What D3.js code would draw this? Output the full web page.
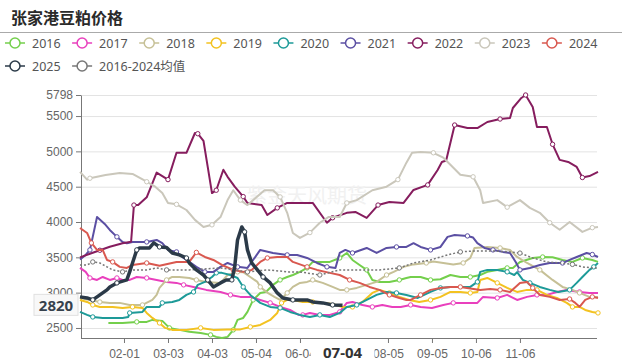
<!DOCTYPE html>
<html>
<head>
<meta charset="utf-8">
<script src="https://cdn.jsdelivr.net/npm/d3@7"></script>
<style>
  body { margin: 0; background: #fff; }
  svg { display: block; font-family: "Noto Sans", "Noto Sans CJK SC", sans-serif; }
</style>
</head>
<body>
<svg id="chart" width="633" height="363"></svg>
<script>
// [day index into the MM-DD category list, price]
const s2016 = [[20,2571],[30,2571],[40,2586],[47,2586],[51,2614],[58,2600],[63,2501],[70,2473],[77,2445],[85,2430],[92,2402],[96,2374],[100,2358],[104,2374],[108,2473],[111,2614],[115,2642],[118,2727],[122,2897],[127,2996],[131,3010],[136,3110],[141,3180],[146,3222],[150,3250],[155,3294],[160,3350],[164,3435],[169,3435],[176,3435],[183,3491],[188,3562],[192,3463],[197,3392],[202,3322],[206,3180],[211,3152],[218,3152],[225,3180],[230,3208],[233,3222],[240,3222],[247,3180],[254,3190],[261,3250],[268,3222],[275,3222],[282,3250],[287,3294],[294,3322],[301,3350],[305,3350],[310,3435],[319,3491],[326,3505],[333,3500],[340,3463],[347,3435],[354,3491],[361,3463],[365,3435]];
const s2017 = [[0,3350],[4,3294],[7,3208],[12,3180],[16,3222],[21,3180],[26,3208],[30,3180],[35,3180],[40,3222],[47,3208],[54,3180],[61,3152],[68,3138],[73,3110],[80,3081],[89,3039],[99,3010],[106,2968],[113,2940],[120,2940],[127,2897],[134,2855],[141,2798],[148,2755],[154,2685],[157,2685],[162,2713],[169,2685],[176,2685],[183,2727],[188,2855],[192,2868],[199,2826],[206,2798],[213,2826],[220,2798],[226,2798],[233,2826],[240,2798],[248,2784],[256,2826],[263,2855],[273,2855],[280,2855],[284,2940],[294,2925],[301,2968],[308,2897],[315,2940],[322,2968],[329,2968],[336,3010],[343,3039],[352,3010],[359,2996],[365,2996]];
const s2018 = [[0,2925],[7,2897],[14,2868],[21,2855],[28,2855],[35,2826],[44,2826],[51,2897],[54,2968],[56,3067],[61,3180],[65,3222],[70,3222],[77,3208],[82,3180],[89,3152],[99,3138],[104,3250],[111,3294],[115,3290],[120,3222],[125,3152],[127,3081],[132,3000],[137,2940],[141,2897],[146,2996],[150,3081],[155,3138],[160,3152],[164,3180],[171,3138],[178,3081],[183,3039],[188,3039],[195,3067],[202,3110],[209,3152],[216,3250],[221,3294],[228,3365],[235,3400],[244,3420],[249,3440],[256,3420],[263,3400],[270,3420],[275,3491],[278,3633],[287,3647],[296,3633],[303,3605],[308,3505],[315,3420],[324,3322],[333,3180],[340,3081],[347,3039],[352,2996],[359,2940],[365,2940]];
const s2019 = [[0,2897],[5,2868],[9,2826],[14,2798],[23,2798],[30,2784],[37,2798],[44,2784],[47,2713],[51,2642],[56,2571],[60,2501],[65,2473],[75,2473],[85,2501],[94,2473],[104,2480],[113,2480],[120,2515],[127,2543],[134,2614],[139,2713],[142,2855],[146,2897],[150,2897],[157,2868],[164,2868],[171,2855],[178,2840],[185,2798],[192,2798],[199,2868],[206,2996],[211,3039],[218,2996],[225,2940],[232,2897],[239,2868],[247,2897],[254,2940],[261,3010],[268,3010],[275,2996],[280,3010],[282,3180],[287,3208],[294,3138],[301,3067],[308,3010],[315,3039],[322,3039],[329,2968],[336,2925],[343,2855],[347,2798],[352,2798],[356,2755],[361,2727],[365,2713]];
const s2020 = [[0,2727],[5,2685],[9,2656],[16,2642],[30,2642],[34,2656],[35,2713],[44,2727],[47,2798],[56,2798],[58,2855],[65,2868],[70,2897],[75,2968],[80,3010],[83,3110],[88,3152],[93,3222],[96,3280],[100,3280],[106,3250],[111,3208],[115,3081],[120,2968],[127,2855],[134,2798],[141,2784],[148,2727],[155,2685],[162,2656],[169,2685],[176,2656],[183,2713],[188,2798],[195,2826],[202,2897],[209,2968],[216,3010],[223,2996],[230,2968],[238,2925],[247,3010],[254,3067],[261,3081],[268,3081],[275,3081],[280,3152],[282,3294],[287,3322],[294,3322],[301,3294],[306,3250],[308,3290],[312,3180],[317,3138],[324,3081],[331,3039],[337,3010],[345,3039],[350,3138],[354,3222],[359,3322],[362,3365],[365,3420]];
const s2021 = [[0,3470],[4,3534],[7,3605],[12,4072],[18,3960],[21,3888],[26,3790],[30,3718],[33,3700],[37,3718],[47,3718],[54,3746],[58,3700],[62,3605],[68,3577],[73,3491],[77,3435],[82,3365],[88,3294],[94,3294],[99,3365],[104,3420],[111,3365],[118,3350],[127,3605],[136,3562],[146,3534],[153,3534],[160,3491],[167,3420],[174,3365],[180,3350],[183,3562],[187,3605],[192,3562],[202,3633],[209,3562],[216,3633],[223,3647],[230,3647],[235,3700],[240,3647],[247,3605],[254,3647],[259,3790],[264,3817],[273,3803],[277,3780],[280,3700],[285,3633],[291,3605],[298,3577],[303,3562],[307,3435],[310,3322],[317,3350],[324,3392],[331,3420],[340,3420],[345,3463],[350,3505],[357,3562],[361,3540],[365,3505]];
const s2022 = [[0,3500],[7,3550],[14,3600],[21,3650],[30,3700],[36,3720],[38,4240],[41,4240],[47,4350],[54,4700],[62,4600],[68,4980],[75,4980],[81,5260],[83,5250],[87,5150],[90,4780],[93,4410],[96,4450],[101,4740],[104,4640],[109,4500],[115,4360],[118,4270],[128,4240],[132,4100],[139,4200],[146,4270],[164,4270],[174,3990],[178,4060],[188,4130],[194,4143],[202,4058],[210,4240],[218,4284],[228,4270],[235,4454],[245,4525],[252,4737],[255,4850],[258,4870],[264,5373],[273,5330],[280,5330],[287,5416],[296,5458],[303,5473],[305,5614],[311,5756],[314,5798],[319,5628],[322,5345],[329,5345],[333,5100],[338,4880],[344,4850],[350,4780],[354,4630],[359,4650],[365,4710]];
const s2023 = [[0,4710],[5,4600],[7,4620],[18,4665],[28,4695],[37,4680],[47,4570],[53,4500],[58,4410],[62,4270],[68,4250],[75,4170],[81,4030],[87,3930],[93,3960],[99,4070],[104,4310],[108,4450],[113,4310],[118,4240],[130,4450],[136,4450],[141,4355],[146,4130],[150,3845],[155,3775],[162,3850],[169,3990],[175,4070],[183,4070],[188,4270],[195,4310],[206,4450],[216,4500],[224,4600],[230,4840],[234,4980],[240,4990],[249,4980],[256,4910],[261,4810],[268,4670],[277,4640],[282,4450],[284,4270],[294,4310],[301,4210],[310,4310],[317,4200],[324,4130],[331,3990],[338,3890],[345,4000],[354,3860],[361,3920],[365,3930]];
const s2024 = [[0,3916],[5,3845],[8,3704],[12,3605],[16,3605],[19,3463],[23,3435],[28,3365],[33,3350],[37,3392],[47,3420],[56,3380],[68,3435],[77,3435],[82,3570],[88,3505],[94,3463],[100,3392],[108,3322],[115,3294],[121,3322],[127,3435],[132,3491],[139,3505],[146,3505],[150,3435],[160,3365],[167,3322],[176,3280],[183,3250],[190,3180],[197,3138],[204,3081],[211,3039],[218,2968],[225,2925],[230,2897],[233,2897],[240,2968],[247,3039],[254,3067],[261,3081],[268,3081],[275,3060],[282,3039],[289,3050],[296,3039],[303,3010],[310,3138],[315,3152],[319,3067],[324,2968],[331,2940],[338,2897],[345,2910],[349,2855],[352,2800],[356,2897],[361,2940],[365,2925]];
const s2025 = [[0,2940],[5,2925],[9,2897],[14,2968],[19,3039],[21,3081],[26,3138],[33,3180],[35,3294],[37,3420],[40,3605],[42,3633],[49,3633],[52,3704],[56,3647],[61,3640],[65,3562],[70,3534],[75,3491],[77,3420],[82,3322],[87,3250],[90,3180],[94,3081],[99,3138],[103,3180],[107,3180],[109,3365],[111,3746],[114,3930],[116,3860],[118,3605],[121,3420],[125,3322],[129,3222],[134,3138],[139,2996],[143,2925],[150,2897],[160,2897],[164,2868],[171,2855],[178,2826],[185,2820]];
const sMean = [[0,3392],[5,3392],[9,3435],[14,3420],[19,3365],[23,3322],[30,3294],[37,3322],[47,3322],[54,3350],[61,3322],[68,3322],[77,3322],[99,3350],[118,3294],[132,3322],[147,3294],[155,3294],[169,3250],[183,3322],[197,3322],[211,3322],[225,3350],[235,3420],[247,3463],[259,3534],[268,3577],[278,3590],[291,3590],[303,3577],[310,3560],[319,3491],[329,3435],[338,3420],[347,3400],[354,3365],[361,3350],[365,3350]];

const yTicks = [2500, 3000, 3500, 4000, 4500, 5000, 5500, 5798];
const xTickLabels = ["02-01", "03-03", "04-03", "05-04", "06-04", "08-05", "09-05", "10-06", "11-06"];
const pointerDate = "07-04";
const pointerValue = 2820;

const series = [
  { name: "2016", color: "#74cf4c", data: s2016 },
  { name: "2017", color: "#e940bd", data: s2017 },
  { name: "2018", color: "#c6c096", data: s2018 },
  { name: "2019", color: "#f3c220", data: s2019 },
  { name: "2020", color: "#1d9a98", data: s2020 },
  { name: "2021", color: "#5b4fa3", data: s2021 },
  { name: "2022", color: "#861d5e", data: s2022 },
  { name: "2023", color: "#cac7bb", data: s2023 },
  { name: "2024", color: "#d9584f", data: s2024 },
  { name: "2025", color: "#2b3a48", data: s2025, width: 3.5 },
  { name: "2016-2024均值", color: "#777", data: sMean, dash: "2,2", width: 1.5 },
];

const svg = d3.select("#chart");
const plotLeft = 81, plotRight = 597, plotTop = 95, plotBottom = 338;

// leap-year list of MM-DD categories
const days = d3.timeDay.range(new Date(2024, 0, 1), new Date(2025, 0, 1)).map(d3.timeFormat("%m-%d"));

const x = d3.scalePoint().domain(days).range([80, 598]);
const allVals = series.flatMap((s) => s.data.map((d) => d[1]));
const y = d3.scaleLinear().domain(d3.extent(allVals)).range([plotBottom, plotTop]);

// title
svg.append("text").attr("x", 11).attr("y", 24)
  .attr("font-family", "'Noto Sans CJK SC', sans-serif")
  .attr("font-size", 16).attr("font-weight", "bold").attr("fill", "#2a2a2a")
  .text("张家港豆粕价格");
svg.append("line").attr("x1", 0).attr("x2", 622).attr("y1", 32.5).attr("y2", 32.5)
  .attr("stroke", "#aaa");

// legend
const legendRows = [series.slice(0, 9), series.slice(9)];
legendRows.forEach((row, r) => {
  let cursor = 5;
  const yy = 43 + r * 23;
  row.forEach((s) => {
    const g = svg.append("g");
    g.append("line").attr("x1", cursor).attr("x2", cursor + 20).attr("y1", yy).attr("y2", yy)
      .attr("stroke", s.color).attr("stroke-width", 1.5);
    g.append("circle").attr("cx", cursor + 10).attr("cy", yy).attr("r", 5)
      .attr("fill", "#fff").attr("stroke", s.color).attr("stroke-width", 1.5);
    const t = g.append("text").attr("x", cursor + 27).attr("y", yy + 4.5)
      .attr("font-size", 12.5).attr("fill", "#555").text(s.name);
    cursor += 27 + t.node().getComputedTextLength() + 11.5;
  });
});

// grid
svg.append("g").attr("transform", `translate(${plotLeft},0)`)
  .call(d3.axisLeft(y).tickValues(yTicks).tickSize(-(plotRight - plotLeft)).tickFormat(""))
  .call((g) => g.select(".domain").remove())
  .call((g) => g.selectAll("line").attr("stroke", "#e3e3e3"));

// watermark
svg.append("text").attr("x", 247).attr("y", 203)
  .attr("font-family", "'Noto Sans CJK SC', sans-serif")
  .attr("font-size", 20).attr("fill", "#f1f1f1").text("紫金天风期货");

// y axis
svg.append("g").attr("transform", `translate(${plotLeft},0)`)
  .call(d3.axisLeft(y).tickValues(yTicks).tickFormat(d3.format("d")).tickSize(5).tickSizeOuter(0))
  .call((g) => g.selectAll("line, path").attr("stroke", "#777"))
  .call((g) => g.selectAll("text").attr("fill", "#666").attr("font-size", 12));

// x axis
svg.append("g").attr("transform", `translate(0,${plotBottom})`)
  .call(d3.axisBottom(x).tickValues(xTickLabels).tickSize(5).tickSizeOuter(0).tickPadding(6))
  .call((g) => g.select(".domain").attr("d", `M${plotLeft},0.5H${plotRight}`))
  .call((g) => g.selectAll("line, path").attr("stroke", "#777"))
  .call((g) => g.selectAll("text").attr("fill", "#666").attr("font-size", 12));

// lines
const line = d3.line().x((d) => x(days[d[0]])).y((d) => y(d[1]));
const order = [0, 1, 2, 3, 4, 5, 6, 7, 8, 10, 9];
order.forEach((k) => {
  const s = series[k];
  svg.append("path").datum(s.data).attr("d", line)
    .attr("fill", "none").attr("stroke", s.color)
    .attr("stroke-width", s.width || 2).attr("stroke-linejoin", "round")
    .attr("stroke-dasharray", s.dash || null);
  svg.append("g").selectAll("circle")
    .data(s.data.filter((d, i) => i % 4 === 2))
    .join("circle")
    .attr("cx", (d) => x(days[d[0]])).attr("cy", (d) => y(d[1])).attr("r", 2.2)
    .attr("fill", "#fff").attr("stroke", s.color).attr("stroke-width", 1);
});

// axis pointer labels
const px = x(pointerDate);
svg.append("rect").attr("x", px - 32).attr("y", plotBottom + 3).attr("width", 64).attr("height", 22)
  .attr("fill", "#fff");
svg.append("text").attr("x", px).attr("y", plotBottom + 20).attr("text-anchor", "middle")
  .attr("font-size", 15).attr("font-weight", "bold").attr("fill", "#333").text(pointerDate);

const py = y(pointerValue);
svg.append("rect").attr("x", 34).attr("y", py - 11).attr("width", 44).attr("height", 21)
  .attr("fill", "#f8f8f8").attr("stroke", "#e0e0e0");
svg.append("text").attr("x", 56).attr("y", py + 5.5).attr("text-anchor", "middle")
  .attr("font-size", 15).attr("font-weight", "bold").attr("fill", "#36414c").text(pointerValue);
</script>
</body>
</html>
